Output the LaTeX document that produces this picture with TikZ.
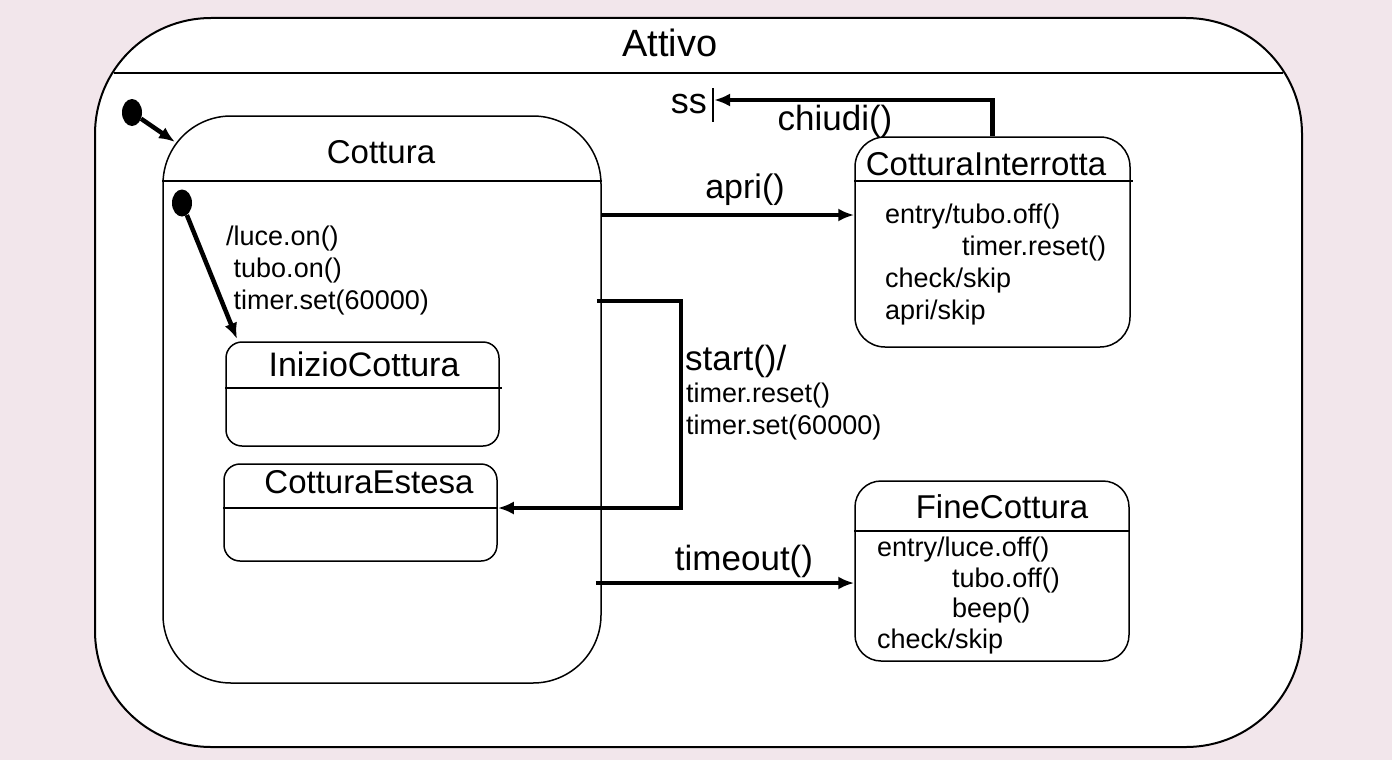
\documentclass[tikz,border=0pt]{standalone}
\usepackage{fontspec}
\setmainfont{Liberation Sans}
\usepackage{tikz}
\usetikzlibrary{arrows.meta}
\usetikzlibrary{positioning}
\usetikzlibrary{shapes.geometric}
\definecolor{fondo}{RGB}{242,230,235}
\tikzset{>=latex}
\tikzstyle{stato} = [draw, fill = white, line width = 1.5, inner sep = 0, rounded corners = 30]
\tikzstyle{divisore} = [line width = 1.3]
\tikzstyle{nome} = [inner sep = 0, anchor = base, font = \fontsize{33}{38}\selectfont]
\tikzstyle{evento} = [inner sep = 0, anchor = base, font = \fontsize{35}{40}\selectfont]
\tikzstyle{azione} = [inner sep = 0, anchor = north west, align = left, font = \fontsize{27}{32}\selectfont]
\tikzstyle{iniziale} = [ellipse, fill = black, inner sep = 0, minimum width = 20pt, minimum height = 27pt]
\tikzstyle{trans} = [line width = 4.5, -{Latex[length = 16pt, width = 13pt]}]

\begin{document}
\begin{tikzpicture}[x = 1pt, y = -1pt]
\useasboundingbox (0, 0) rectangle (1392, 760);
\fill [fondo] (0, 0) rectangle (1392, 760);
% stati
\node [stato, line width = 2, rounded corners = 116, minimum width = 1207pt, minimum height = 729pt] (Attivo) at (698.5, 382.5) {};
\node [stato, rounded corners = 68, minimum width = 438pt, minimum height = 567pt] (Cottura) at (382, 399.5) {};
\node [stato, rounded corners = 16, minimum width = 273pt, minimum height = 104pt] (Inizio) at (362.5, 394) {};
\node [stato, rounded corners = 16, minimum width = 273pt, minimum height = 97pt] (Estesa) at (360.5, 512.5) {};
\node [stato, minimum width = 275pt, minimum height = 210pt] (Interrotta) at (992.5, 242) {};
\node [stato, rounded corners = 26, minimum width = 274pt, minimum height = 180pt] (Fine) at (992, 571) {};
% divisori
\draw [divisore] (114, 73) -- (1283, 73);
\draw [divisore] (Cottura.west |- 0, 181) -- (Cottura.east |- 0, 181);
\draw [divisore] (Inizio.west |- 0, 388) -- ([xshift = 2pt]Inizio.east |- 0, 388);
\draw [divisore] (Estesa.west |- 0, 508) -- (Estesa.east |- 0, 508);
\draw [divisore] (Interrotta.west |- 0, 181) -- ([xshift = 2pt]Interrotta.east |- 0, 181);
\draw [divisore] (Fine.west |- 0, 531) -- (Fine.east |- 0, 531);
% titoli
\node [nome, font = \fontsize{38}{44}\selectfont] at (670, 57) {Attivo};
\node [nome] at (381, 163) {Cottura};
\node [nome, font = \fontsize{34}{40}\selectfont] at (364, 376) {InizioCottura};
\node [nome] at (369, 493) {CotturaEstesa};
\node [nome] at (986, 175) {CotturaInterrotta};
\node [nome] at (1002, 518) {FineCottura};
% azioni interne
\node [azione] at (226, 226) {/luce.on()\\\phantom{/}tubo.on()\\\phantom{/}timer.set(60000)};
\node [azione] at (885, 204) {entry/tubo.off()\\\hspace*{77pt}timer.reset()\\check/skip\\apri/skip};
\node [azione, font = \fontsize{27}{30.5}\selectfont] at (877, 537) {entry/luce.off()\\\hspace*{75pt}tubo.off()\\\hspace*{75pt}beep()\\check/skip};
% pseudostati iniziali
\node [iniziale] (I0) at (132, 112.5) {};
\node [iniziale] (I1) at (182, 203) {};
\coordinate (C0) at (175, 142);
\coordinate (C1) at (237, 339);
\draw [trans] (I0) -- (C0);
\draw [trans] (I1) -- (C1);
% transizioni
\draw [trans] (Cottura.east |- 0, 215) -- (Interrotta.west |- 0, 215);
\node [evento, font = \fontsize{34}{40}\selectfont] at (745, 198) {apri()};
\draw [trans] ([xshift = -5pt]Cottura.east |- 0, 301) -- (681, 301) -- (681, 508) -- (Estesa.east |- 0, 508);
\node [evento, anchor = base west] at (685, 370) {start()/};
\node [azione] at (686, 383) {timer.reset()\\timer.set(60000)};
\draw [trans] ([xshift = -6pt]Cottura.east |- 0, 583) -- (Fine.west |- 0, 583);
\node [evento] at (744, 570) {timeout()};
% chiudi verso ss
\node [evento, anchor = base east, font = \fontsize{36}{40}\selectfont] (ss) at (707, 113) {ss};
\draw [line width = 2] (713, 88) -- (713, 122);
\coordinate (H) at (714, 100);
\draw [trans] (Interrotta.north) |- (H);
\node [evento] at (835, 130) {chiudi()};
\end{tikzpicture}
\end{document}
